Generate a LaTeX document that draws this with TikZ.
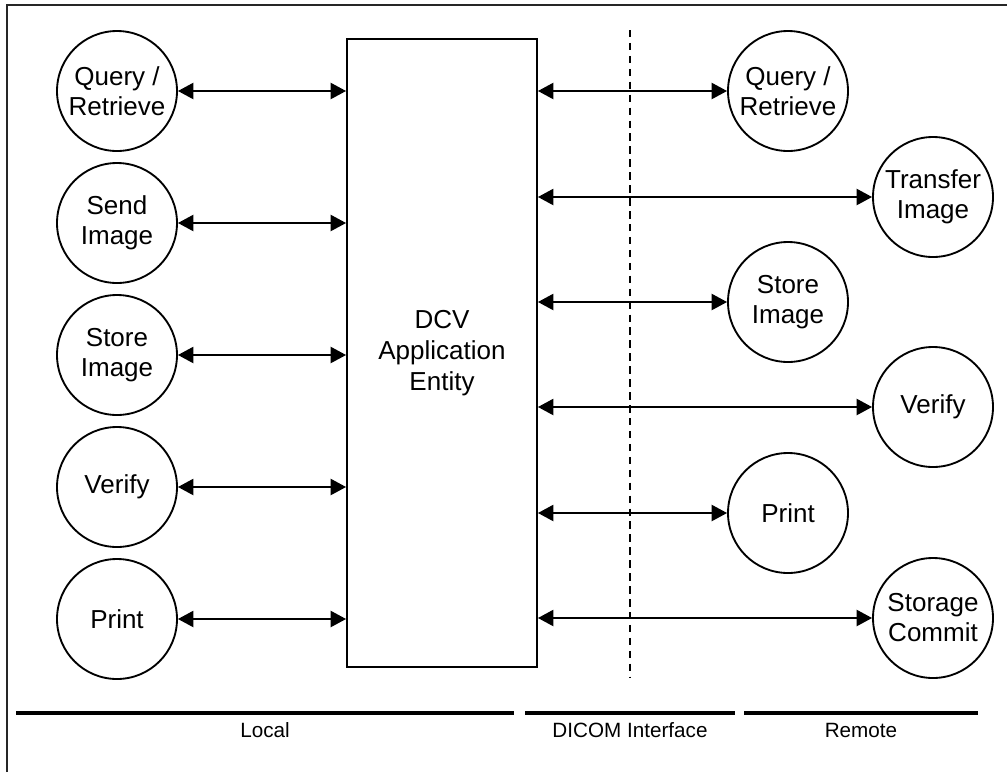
\documentclass[tikz,border=0pt]{standalone}
\usepackage{fontspec}
\setmainfont{Liberation Sans}
\usetikzlibrary{arrows.meta}
\tikzset{
  svc/.style={draw, circle, line width=1.4pt, minimum size=90pt, inner sep=0pt, align=center,
    font=\fontsize{19.5}{22.5}\selectfont},
  entity/.style={draw, rectangle, line width=1.4pt, minimum width=142.5pt, minimum height=471pt,
    align=center, font=\fontsize{19.5}{23.2}\selectfont},
  link/.style={line width=1.5pt, {Triangle[length=11.5pt,width=12pt]}-{Triangle[length=11.5pt,width=12pt]}},
  zone/.style={line width=3pt},
  zonelabel/.style={anchor=base, inner sep=0pt, font=\fontsize{15.5}{18}\selectfont},
  border/.style={line width=1.5pt, draw=black!85},
  divider/.style={line width=1.4pt, dash pattern=on 5.6pt off 4.1pt}
}
\begin{document}
\begin{tikzpicture}[x=0.75pt,y=-0.75pt]
\useasboundingbox (0,0) rectangle (1007,772);
% frame (clipped at right and bottom)
\coordinate (fb) at (7,772);
\coordinate (fc) at (7,5);
\coordinate (fr) at (1007,5);
\draw[border] (fb) -- (fc) -- (fr);
% dashed interface line
\coordinate (dt) at (630,30);
\coordinate (db) at (630,678);
\draw[divider] (dt) -- (db);
% central entity
\node[entity] (ae) at (442,353) {DCV\\Application\\Entity};
% local services
\node[svc] (l1) at (117,91) {Query /\\Retrieve};
\node[svc] (l2) at (117,223) {Send\\Image};
\node[svc] (l3) at (117,355) {Store\\Image};
\node[svc] (l4) at (117,487) {Verify};
\node[svc] (l5) at (117,619) {Print};
% remote services
\node[svc] (r1) at (788,91) {Query /\\Retrieve};
\node[svc] (r2) at (933,197) {Transfer\\Image};
\node[svc] (r3) at (788,302) {Store\\Image};
\node[svc] (r4) at (933,407) {Verify};
\node[svc] (r5) at (788,513) {Print};
\node[svc] (r6) at (933,618) {Storage\\Commit};
% connectors
\foreach \n in {l1,l2,l3,l4,l5}{
  \draw[link] (\n.east) -- (\n.east -| ae.west);
}
\foreach \n in {r1,r2,r3,r4,r5,r6}{
  \draw[link] (ae.east |- \n.west) -- (\n.west);
}
% zones
\coordinate (z1a) at (16,713); \coordinate (z1b) at (514,713);
\coordinate (z2a) at (525,713); \coordinate (z2b) at (735,713);
\coordinate (z3a) at (744,713); \coordinate (z3b) at (978,713);
\draw[zone] (z1a) -- (z1b);
\draw[zone] (z2a) -- (z2b);
\draw[zone] (z3a) -- (z3b);
\node[zonelabel] (lloc) at (265,737) {Local};
\node[zonelabel] (ldic) at (630,737) {DICOM Interface};
\node[zonelabel] (lrem) at (861,737) {Remote};
\end{tikzpicture}
\end{document}
